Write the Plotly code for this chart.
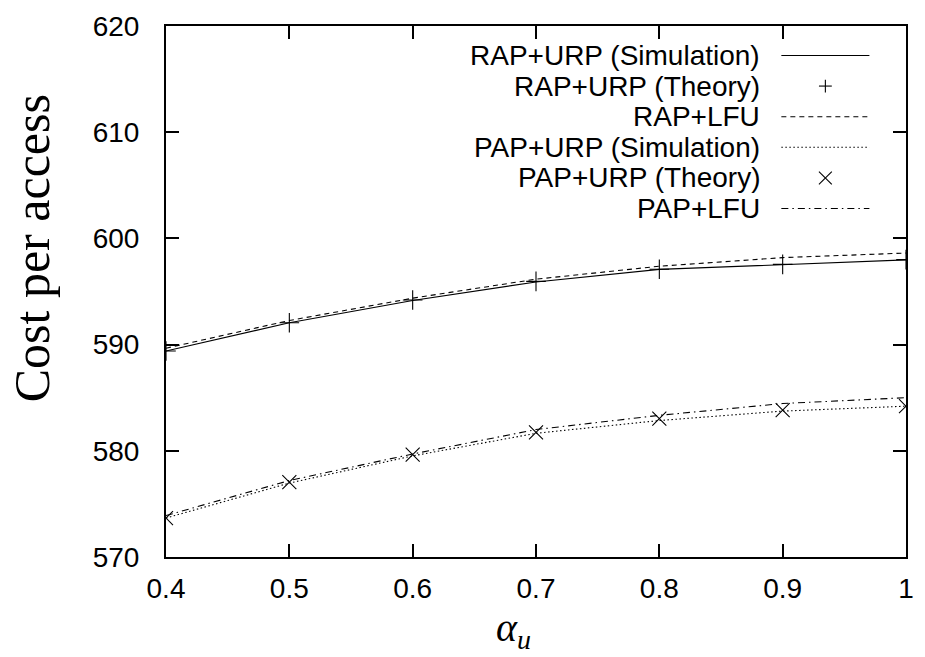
import plotly.graph_objects as go

alpha_u = [0.4, 0.5, 0.6, 0.7, 0.8, 0.9, 1.0]
rap_urp_sim = [589.4, 592.06, 594.15, 595.9, 597.08, 597.54, 597.98]
rap_urp_theory = [589.4, 592.06, 594.2, 595.95, 597.1, 597.55, 598.0]
rap_lfu = [589.66, 592.27, 594.37, 596.16, 597.38, 598.19, 598.62]
pap_urp_sim = [573.67, 576.96, 579.52, 581.65, 582.85, 583.74, 584.2]
pap_urp_theory = [573.67, 577.05, 579.65, 581.74, 583.03, 583.83, 584.2]
pap_lfu = [573.9, 577.2, 579.7, 582.0, 583.34, 584.45, 585.0]

legend_labels = ["RAP+URP (Simulation)", "RAP+URP (Theory)", "RAP+LFU",
                 "PAP+URP (Simulation)", "PAP+URP (Theory)", "PAP+LFU"]

x_ticks = [0.4, 0.5, 0.6, 0.7, 0.8, 0.9, 1.0]
x_ticktext = ["0.4", "0.5", "0.6", "0.7", "0.8", "0.9", "1"]
y_ticks = [570, 580, 590, 600, 610, 620]

BLACK = "#000000"
W, H = 925, 657
ML, MR, MT, MB = 166, 11, 16, 100
PW, PH = W - ML - MR, H - MT - MB


def px(xp):
    """page pixel x -> paper coordinate"""
    return (xp - ML) / PW


def py(yp):
    """page pixel y -> paper coordinate"""
    return (H - MB - yp) / PH


fig = go.Figure()
fig.add_trace(go.Scatter(x=alpha_u, y=rap_urp_sim, mode="lines",
                         line=dict(color=BLACK, width=1.1), name=legend_labels[0]))
fig.add_trace(go.Scatter(x=alpha_u, y=rap_urp_theory, mode="markers",
                         marker=dict(symbol="cross-thin", size=14, color=BLACK,
                                     line=dict(color=BLACK, width=1.1)),
                         name=legend_labels[1]))
fig.add_trace(go.Scatter(x=alpha_u, y=rap_lfu, mode="lines",
                         line=dict(color=BLACK, width=1.1, dash="5px,4px"),
                         name=legend_labels[2]))
fig.add_trace(go.Scatter(x=alpha_u, y=pap_urp_sim, mode="lines",
                         line=dict(color=BLACK, width=1.1, dash="1.5px,2.5px"),
                         name=legend_labels[3]))
fig.add_trace(go.Scatter(x=alpha_u, y=pap_urp_theory, mode="markers",
                         marker=dict(symbol="x-thin", size=14, color=BLACK,
                                     line=dict(color=BLACK, width=1.1)),
                         name=legend_labels[4]))
fig.add_trace(go.Scatter(x=alpha_u, y=pap_lfu, mode="lines",
                         line=dict(color=BLACK, width=1.1, dash="7px,4px,1.5px,4px"),
                         name=legend_labels[5]))

# Custom legend (text right-aligned, sample on the right, as in the reference)
row_y = [46 + 31.2 * i for i in range(6)]
text_right = px(768)
samp_l, samp_r = px(788), px(877)
annotations = []
shapes = []
line_styles = {0: "solid", 2: "5px,4px", 3: "1.5px,2.5px", 5: "7px,4px,1.5px,4px"}
for i, lab in enumerate(legend_labels):
    annotations.append(dict(text=lab, x=text_right, y=py(row_y[i]), xref="paper", yref="paper",
                            xanchor="right", yanchor="middle", showarrow=False,
                            font=dict(family="Liberation Sans, Arial, sans-serif", size=28, color=BLACK)))
    if i in line_styles:
        shapes.append(dict(type="line", xref="paper", yref="paper",
                           x0=samp_l, x1=samp_r, y0=py(row_y[i]), y1=py(row_y[i]),
                           line=dict(color=BLACK, width=1.1, dash=line_styles[i])))
    else:
        cx, cy = 832.5, row_y[i]
        h = 6.5
        if i == 1:
            segs = [((cx - h, cy), (cx + h, cy)), ((cx, cy - h), (cx, cy + h))]
        else:
            segs = [((cx - h, cy - h), (cx + h, cy + h)), ((cx - h, cy + h), (cx + h, cy - h))]
        for (a, b) in segs:
            shapes.append(dict(type="line", xref="paper", yref="paper",
                               x0=px(a[0]), y0=py(a[1]), x1=px(b[0]), y1=py(b[1]),
                               line=dict(color=BLACK, width=1.1)))

annotations.append(dict(text="Cost per access", textangle=-90, x=px(30), y=py(242),
                        xref="paper", yref="paper", xanchor="center", yanchor="middle",
                        showarrow=False,
                        font=dict(family="Liberation Serif, Times New Roman, serif", size=50, color=BLACK)))
annotations.append(dict(text="<i>α</i><sub><i>u</i></sub>", x=px(517), y=py(631),
                        xref="paper", yref="paper", xanchor="center", yanchor="middle",
                        showarrow=False,
                        font=dict(family="Liberation Serif, Times New Roman, serif", size=40, color=BLACK)))

axis_common = dict(showline=True, linecolor=BLACK, linewidth=2, mirror="allticks",
                   ticks="inside", ticklen=13, tickwidth=1.5, tickcolor=BLACK,
                   showgrid=False, zeroline=False,
                   tickfont=dict(family="Liberation Sans, Arial, sans-serif", size=28, color=BLACK))

fig.update_layout(
    width=W, height=H,
    margin=dict(l=ML, r=MR, t=MT, b=MB),
    paper_bgcolor="white", plot_bgcolor="white",
    showlegend=False,
    xaxis=dict(range=[0.4, 1.0], tickvals=x_ticks, ticktext=x_ticktext,
               ticklabelstandoff=5, **axis_common),
    yaxis=dict(range=[570, 620], tickvals=y_ticks, ticklabelstandoff=19, **axis_common),
    annotations=annotations,
    shapes=shapes,
)

# remove the default 8px page margin so the 925x657 figure fills the window exactly
fig.write_html("out.html", post_script="document.body.style.margin='0';",
               config={"displayModeBar": False})
